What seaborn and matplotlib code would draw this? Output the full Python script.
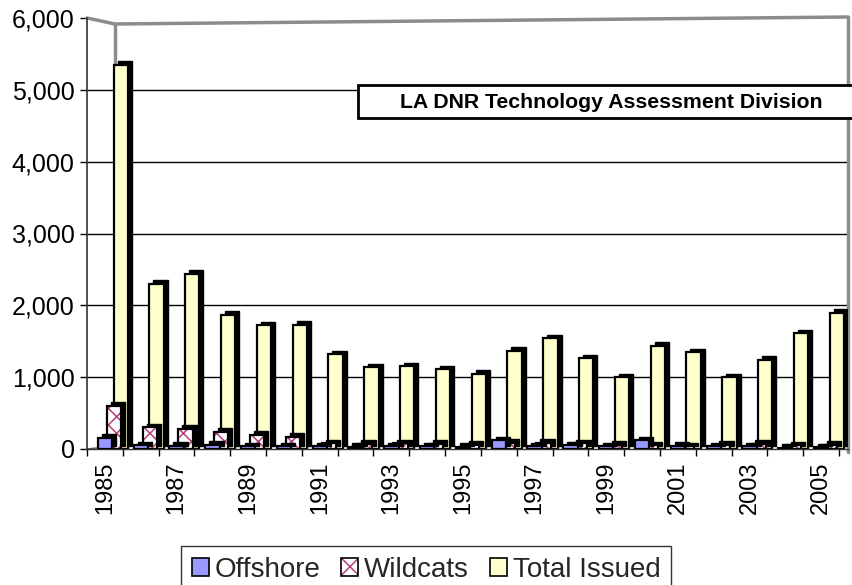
import numpy as np
import pandas as pd
import matplotlib
matplotlib.use("Agg")
import matplotlib.pyplot as plt
import matplotlib.transforms as mtransforms
from matplotlib.colors import to_rgba
from matplotlib.patches import Rectangle, Patch
from matplotlib.ticker import FuncFormatter
import seaborn as sns

# Permit counts by year
years = list(range(1985, 2006))
offshore = [160, 55, 45, 60, 40, 40, 35, 30, 40, 35, 30, 125, 40, 50, 35, 125, 45, 40, 35, 15, 25]
wildcats = [600, 300, 280, 240, 200, 170, 80, 70, 80, 70, 60, 90, 90, 80, 60, 50, 40, 60, 70, 50, 60]
total_issued = [5350, 2300, 2440, 1870, 1720, 1730, 1320, 1140, 1150, 1110, 1050,
                1370, 1540, 1260, 1000, 1440, 1350, 1000, 1240, 1610, 1900]
series_names = ["Offshore", "Wildcats", "Total Issued"]
y_ticks = [0, 1000, 2000, 3000, 4000, 5000, 6000]
note_text = "LA DNR Technology Assessment Division"

series_colors = {"Offshore": "#9999FF", "Wildcats": "#FFFFFF", "Total Issued": "#FFFFCC"}
hatch_pink = "#B8407E"
wall_gray = "#8C8C8C"

year_labels = [str(y) for y in years]
df = pd.DataFrame({
    "Year": year_labels * 3,
    "Series": [s for s in series_names for _ in years],
    "Permits": offshore + wildcats + total_issued,
})

sns.set_theme(style="white")
plt.rcParams["font.family"] = ["Liberation Sans", "DejaVu Sans"]
plt.rcParams["hatch.linewidth"] = 1.1


def pink_hatch(patch, hatch="xx"):
    """Black outline with a pink cross hatch."""
    patch.set_edgecolor("black")
    patch.set_hatch(hatch)
    if hasattr(patch, "set_hatchcolor"):
        patch.set_hatchcolor(hatch_pink)
    else:
        patch._hatch_color = to_rgba(hatch_pink)


W, H = 852, 585
fig = plt.figure(figsize=(W / 100, H / 100), dpi=100)
fig.patch.set_facecolor("white")
ax_l, ax_r, ax_t, ax_b = 87, 848, 18, 449
ax = fig.add_axes([ax_l / W, 1 - ax_b / H, (ax_r - ax_l) / W, (ax_b - ax_t) / H])

sns.barplot(data=df, x="Year", y="Permits", hue="Series", order=year_labels,
            hue_order=series_names, palette=series_colors, dodge=True, width=0.75,
            errorbar=None, saturation=1, legend=False, ax=ax)

# Pseudo-3D columns: overlapped series, front series drawn on top, dark depth face
bar_w = 0.40
offsets = {"Offshore": 0.0, "Wildcats": 0.25, "Total Issued": 0.44}
base_z = {"Offshore": 2.6, "Wildcats": 2.3, "Total Issued": 2.0}
depth = mtransforms.ScaledTranslation(0.04, 0.035, fig.dpi_scale_trans)
for name, cont in zip(series_names, ax.containers):
    for bar in cont:
        c = bar.get_x() + bar.get_width() / 2
        i = int(round(c))
        h = bar.get_height()
        x0 = i + offsets[name] - bar_w / 2
        bar.set_x(x0)
        bar.set_width(bar_w)
        z = base_z[name]
        ax.add_patch(Rectangle((x0, 0), bar_w, h, facecolor="black", edgecolor="black",
                               lw=1.0, transform=ax.transData + depth, zorder=z))
        bar.set_linewidth(1.6)
        bar.set_zorder(z + 0.1)
        if name == "Wildcats":
            pink_hatch(bar)
        else:
            bar.set_edgecolor("black")

ax.set_ylim(0, 6000)
ax.set_xlim(-0.5, 20.75)
ax.grid(False)
for yv in y_ticks[1:-1]:
    ax.axhline(yv, color="black", lw=1.0, zorder=1)

# Walls of the plot box
wx = (115 - ax_l) / (ax_r - ax_l)
def fy(py):
    return (ax_b - py) / (ax_b - ax_t)
ax.plot([wx, wx], [fy(446), fy(24)], transform=ax.transAxes, color=wall_gray, lw=2.5,
        zorder=1.5, clip_on=False, solid_capstyle="butt")
ax.plot([0, wx, 1], [1, fy(24), fy(17)], transform=ax.transAxes, color=wall_gray, lw=2.5,
        zorder=1.5, clip_on=False)
ax.plot([1, 1], [fy(17), fy(452)], transform=ax.transAxes, color=wall_gray, lw=2.5,
        zorder=1.5, clip_on=False)
ax.plot([0, wx], [0, fy(446)], transform=ax.transAxes, color="#555555", lw=1,
        zorder=1.5, clip_on=False)

for s in ["top", "right"]:
    ax.spines[s].set_visible(False)
ax.spines["left"].set_color("#333333")
ax.spines["left"].set_linewidth(1.2)
ax.spines["bottom"].set_color("#333333")
ax.spines["bottom"].set_linewidth(1.0)

ax.set_yticks(y_ticks)
ax.yaxis.set_major_formatter(FuncFormatter(lambda v, p: f"{int(v):,}"))
ax.tick_params(axis="y", left=True, length=5, width=1, color="black", pad=4,
               labelsize=18, labelcolor="black")
ax.set_xticks(range(0, len(years), 2))
ax.set_xticklabels(year_labels[::2], rotation=90)
ax.set_xticks(np.arange(-0.5, len(years), 1), minor=True)
ax.tick_params(axis="x", which="major", bottom=True, length=0, pad=9,
               labelsize=17, labelcolor="black")
ax.tick_params(axis="x", which="minor", bottom=True, length=5, width=1, color="black")
ax.set_xlabel("")
ax.set_ylabel("")

# Title box
bx0, by0, bx1, by1 = 358, 85, 870, 118
fig.add_artist(Rectangle((bx0 / W, 1 - by1 / H), (bx1 - bx0) / W, (by1 - by0) / H,
                         transform=fig.transFigure, facecolor="white", edgecolor="black",
                         lw=2.0, zorder=5))
fig.text(611 / W, 1 - 102 / H, note_text, ha="center", va="center", fontsize=15.3,
         fontweight="bold", color="black", zorder=6)

# Legend
h_off = Patch(facecolor=series_colors["Offshore"], edgecolor="black", lw=1.2)
h_wild = Patch(facecolor="white", lw=1.2)
pink_hatch(h_wild, "xx")
h_tot = Patch(facecolor=series_colors["Total Issued"], edgecolor="black", lw=1.2)
leg = fig.legend([h_off, h_wild, h_tot], series_names, loc="lower center",
                 bbox_to_anchor=(0.5, -0.015), ncol=3, frameon=True, fancybox=False,
                 edgecolor="black", fontsize=20, handlelength=0.62, handleheight=0.62,
                 handletextpad=0.2, columnspacing=0.75, borderpad=0.4, borderaxespad=0)
leg.get_frame().set_linewidth(1.0)

fig.savefig("out.png", dpi=100)
